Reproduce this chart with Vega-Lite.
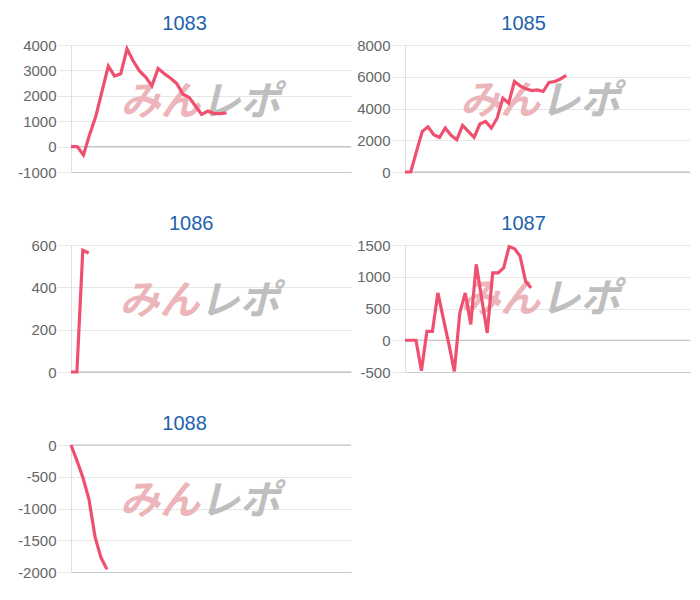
{
  "$schema": "https://vega.github.io/schema/vega-lite/v6.json",
  "padding": {"left": 17, "top": 14, "right": 5, "bottom": 5},
  "config": {
    "font": "Liberation Sans",
    "view": {"stroke": null},
    "title": {"fontSize": 20, "fontWeight": "normal", "color": "#1d62ac", "offset": 4, "font": "Liberation Sans", "frame": "bounds", "anchor": "middle"},
    "axisY": {"domain": true, "domainColor": "#e0e0e0", "grid": true, "gridColor": "#e6e6e6", "ticks": true, "tickColor": "#e6e6e6", "tickSize": 13, "labelPadding": 2, "labelFontSize": 15, "labelColor": "#666666", "title": null, "labelFont": "Liberation Sans", "labelExpr": "toString(datum.value)", "labelOverlap": false, "labelFlush": false, "labelBound": false},
    "axisX": {"labels": false, "ticks": false, "grid": false, "domain": true, "domainColor": "#cccccc", "title": null}
  },
  "datasets": {
    "rows": [
      {"m": "1083", "i": 0, "v": 0}, {"m": "1083", "i": 1, "v": 0}, {"m": "1083", "i": 2, "v": -330}, {"m": "1083", "i": 3, "v": 480}, {"m": "1083", "i": 4, "v": 1200}, {"m": "1083", "i": 5, "v": 2190}, {"m": "1083", "i": 6, "v": 3170}, {"m": "1083", "i": 7, "v": 2780}, {"m": "1083", "i": 8, "v": 2870}, {"m": "1083", "i": 9, "v": 3850}, {"m": "1083", "i": 10, "v": 3370}, {"m": "1083", "i": 11, "v": 2980}, {"m": "1083", "i": 12, "v": 2740}, {"m": "1083", "i": 13, "v": 2390}, {"m": "1083", "i": 14, "v": 3080}, {"m": "1083", "i": 15, "v": 2870}, {"m": "1083", "i": 16, "v": 2690}, {"m": "1083", "i": 17, "v": 2480}, {"m": "1083", "i": 18, "v": 2060}, {"m": "1083", "i": 19, "v": 1930}, {"m": "1083", "i": 20, "v": 1600}, {"m": "1083", "i": 21, "v": 1270}, {"m": "1083", "i": 22, "v": 1400}, {"m": "1083", "i": 23, "v": 1300}, {"m": "1083", "i": 24, "v": 1300}, {"m": "1083", "i": 25, "v": 1330},
      {"m": "1085", "i": 0, "v": 0}, {"m": "1085", "i": 1, "v": 0}, {"m": "1085", "i": 2, "v": 1300}, {"m": "1085", "i": 3, "v": 2560}, {"m": "1085", "i": 4, "v": 2850}, {"m": "1085", "i": 5, "v": 2350}, {"m": "1085", "i": 6, "v": 2180}, {"m": "1085", "i": 7, "v": 2770}, {"m": "1085", "i": 8, "v": 2310}, {"m": "1085", "i": 9, "v": 2030}, {"m": "1085", "i": 10, "v": 2930}, {"m": "1085", "i": 11, "v": 2560}, {"m": "1085", "i": 12, "v": 2180}, {"m": "1085", "i": 13, "v": 3020}, {"m": "1085", "i": 14, "v": 3190}, {"m": "1085", "i": 15, "v": 2770}, {"m": "1085", "i": 16, "v": 3390}, {"m": "1085", "i": 17, "v": 4650}, {"m": "1085", "i": 18, "v": 4340}, {"m": "1085", "i": 19, "v": 5700}, {"m": "1085", "i": 20, "v": 5430}, {"m": "1085", "i": 21, "v": 5240}, {"m": "1085", "i": 22, "v": 5130}, {"m": "1085", "i": 23, "v": 5170}, {"m": "1085", "i": 24, "v": 5070}, {"m": "1085", "i": 25, "v": 5640}, {"m": "1085", "i": 26, "v": 5700}, {"m": "1085", "i": 27, "v": 5860}, {"m": "1085", "i": 28, "v": 6080},
      {"m": "1086", "i": 0, "v": 0}, {"m": "1086", "i": 1, "v": 0}, {"m": "1086", "i": 2, "v": 575}, {"m": "1086", "i": 3, "v": 562},
      {"m": "1087", "i": 0, "v": 0}, {"m": "1087", "i": 1, "v": 0}, {"m": "1087", "i": 2, "v": 0}, {"m": "1087", "i": 3, "v": -480}, {"m": "1087", "i": 4, "v": 140}, {"m": "1087", "i": 5, "v": 140}, {"m": "1087", "i": 6, "v": 745}, {"m": "1087", "i": 7, "v": 340}, {"m": "1087", "i": 8, "v": -60}, {"m": "1087", "i": 9, "v": -490}, {"m": "1087", "i": 10, "v": 430}, {"m": "1087", "i": 11, "v": 745}, {"m": "1087", "i": 12, "v": 250}, {"m": "1087", "i": 13, "v": 1195}, {"m": "1087", "i": 14, "v": 655}, {"m": "1087", "i": 15, "v": 115}, {"m": "1087", "i": 16, "v": 1060}, {"m": "1087", "i": 17, "v": 1060}, {"m": "1087", "i": 18, "v": 1140}, {"m": "1087", "i": 19, "v": 1475}, {"m": "1087", "i": 20, "v": 1440}, {"m": "1087", "i": 21, "v": 1325}, {"m": "1087", "i": 22, "v": 930}, {"m": "1087", "i": 23, "v": 825},
      {"m": "1088", "i": 0, "v": 0}, {"m": "1088", "i": 1, "v": -247}, {"m": "1088", "i": 2, "v": -515}, {"m": "1088", "i": 3, "v": -856}, {"m": "1088", "i": 4, "v": -1442}, {"m": "1088", "i": 5, "v": -1773}, {"m": "1088", "i": 6, "v": -1959}
    ]
  },
  "columns": 2,
  "spacing": {"row": 34, "column": 4},
  "concat": [
    {
      "title": "1083", "width": 280, "height": 127,
      "layer": [
        {"data": {"values": [{}]}, "mark": {"type": "rule", "color": "#bdbdbd"}, "encoding": {"y": {"datum": 0, "axis": {"values": [-1000, 0, 1000, 2000, 3000, 4000], "labelOverlap": false}}}},
        {"data": {"values": [{}]}, "mark": {"type": "text", "text": "みん", "font": "Noto Sans CJK JP", "fontSize": 40, "fontWeight": "bold", "fontStyle": "italic", "color": "#e9a9ae", "opacity": 0.85, "align": "right", "baseline": "middle"}, "encoding": {"x": {"datum": 20.8}, "y": {"datum": 1700, "axis": {"values": [-1000, 0, 1000, 2000, 3000, 4000], "labelOverlap": false}}}},
        {"data": {"values": [{}]}, "mark": {"type": "text", "text": "レポ", "font": "Noto Sans CJK JP", "fontSize": 40, "fontWeight": "bold", "fontStyle": "italic", "color": "#b5b5b5", "opacity": 0.85, "align": "left", "baseline": "middle"}, "encoding": {"x": {"datum": 20.8}, "y": {"datum": 1700, "axis": {"values": [-1000, 0, 1000, 2000, 3000, 4000], "labelOverlap": false}}}},
        {"data": {"name": "rows"}, "transform": [{"filter": "datum.m == '1083'"}], "mark": {"type": "line", "color": "#ef506f", "strokeWidth": 3.2, "strokeJoin": "miter"},
         "encoding": {"x": {"field": "i", "type": "quantitative", "scale": {"domain": [0, 45], "nice": false, "zero": false}},
                      "y": {"field": "v", "type": "quantitative", "scale": {"domain": [-1000, 4000], "nice": false}, "axis": {"values": [-1000, 0, 1000, 2000, 3000, 4000], "labelOverlap": false}}}}
      ]
    },
    {
      "title": "1085", "width": 285, "height": 127,
      "layer": [
        {"data": {"values": [{}]}, "mark": {"type": "rule", "color": "#bdbdbd"}, "encoding": {"y": {"datum": 0, "axis": {"values": [0, 2000, 4000, 6000, 8000], "labelOverlap": false}}}},
        {"data": {"values": [{}]}, "mark": {"type": "text", "text": "みん", "font": "Noto Sans CJK JP", "fontSize": 40, "fontWeight": "bold", "fontStyle": "italic", "color": "#e9a9ae", "opacity": 0.85, "align": "right", "baseline": "middle"}, "encoding": {"x": {"datum": 23.5}, "y": {"datum": 4400, "axis": {"values": [0, 2000, 4000, 6000, 8000], "labelOverlap": false}}}},
        {"data": {"values": [{}]}, "mark": {"type": "text", "text": "レポ", "font": "Noto Sans CJK JP", "fontSize": 40, "fontWeight": "bold", "fontStyle": "italic", "color": "#b5b5b5", "opacity": 0.85, "align": "left", "baseline": "middle"}, "encoding": {"x": {"datum": 23.5}, "y": {"datum": 4400, "axis": {"values": [0, 2000, 4000, 6000, 8000], "labelOverlap": false}}}},
        {"data": {"name": "rows"}, "transform": [{"filter": "datum.m == '1085'"}], "mark": {"type": "line", "color": "#ef506f", "strokeWidth": 3.2, "strokeJoin": "miter"},
         "encoding": {"x": {"field": "i", "type": "quantitative", "scale": {"domain": [0, 49.5], "nice": false, "zero": false}},
                      "y": {"field": "v", "type": "quantitative", "scale": {"domain": [0, 8000], "nice": false}, "axis": {"values": [0, 2000, 4000, 6000, 8000], "labelOverlap": false}}}}
      ]
    },
    {
      "title": "1086", "width": 280, "height": 127,
      "layer": [
        {"data": {"values": [{}]}, "mark": {"type": "rule", "color": "#bdbdbd"}, "encoding": {"y": {"datum": 0, "axis": {"values": [0, 200, 400, 600], "labelOverlap": false}}}},
        {"data": {"values": [{}]}, "mark": {"type": "text", "text": "みん", "font": "Noto Sans CJK JP", "fontSize": 40, "fontWeight": "bold", "fontStyle": "italic", "color": "#e9a9ae", "opacity": 0.85, "align": "right", "baseline": "middle"}, "encoding": {"x": {"datum": 21.8}, "y": {"datum": 333, "axis": {"values": [0, 200, 400, 600], "labelOverlap": false}}}},
        {"data": {"values": [{}]}, "mark": {"type": "text", "text": "レポ", "font": "Noto Sans CJK JP", "fontSize": 40, "fontWeight": "bold", "fontStyle": "italic", "color": "#b5b5b5", "opacity": 0.85, "align": "left", "baseline": "middle"}, "encoding": {"x": {"datum": 21.8}, "y": {"datum": 333, "axis": {"values": [0, 200, 400, 600], "labelOverlap": false}}}},
        {"data": {"name": "rows"}, "transform": [{"filter": "datum.m == '1086'"}], "mark": {"type": "line", "color": "#ef506f", "strokeWidth": 3.2, "strokeJoin": "miter"},
         "encoding": {"x": {"field": "i", "type": "quantitative", "scale": {"domain": [0, 47.5], "nice": false, "zero": false}},
                      "y": {"field": "v", "type": "quantitative", "scale": {"domain": [0, 600], "nice": false}, "axis": {"values": [0, 200, 400, 600], "labelOverlap": false}}}}
      ]
    },
    {
      "title": "1087", "width": 285, "height": 127,
      "layer": [
        {"data": {"values": [{}]}, "mark": {"type": "rule", "color": "#bdbdbd"}, "encoding": {"y": {"datum": 0, "axis": {"values": [-500, 0, 500, 1000, 1500], "labelOverlap": false}}}},
        {"data": {"values": [{}]}, "mark": {"type": "text", "text": "みん", "font": "Noto Sans CJK JP", "fontSize": 40, "fontWeight": "bold", "fontStyle": "italic", "color": "#e9a9ae", "opacity": 0.85, "align": "right", "baseline": "middle"}, "encoding": {"x": {"datum": 24.7}, "y": {"datum": 632, "axis": {"values": [-500, 0, 500, 1000, 1500], "labelOverlap": false}}}},
        {"data": {"values": [{}]}, "mark": {"type": "text", "text": "レポ", "font": "Noto Sans CJK JP", "fontSize": 40, "fontWeight": "bold", "fontStyle": "italic", "color": "#b5b5b5", "opacity": 0.85, "align": "left", "baseline": "middle"}, "encoding": {"x": {"datum": 24.7}, "y": {"datum": 632, "axis": {"values": [-500, 0, 500, 1000, 1500], "labelOverlap": false}}}},
        {"data": {"name": "rows"}, "transform": [{"filter": "datum.m == '1087'"}], "mark": {"type": "line", "color": "#ef506f", "strokeWidth": 3.2, "strokeJoin": "miter"},
         "encoding": {"x": {"field": "i", "type": "quantitative", "scale": {"domain": [0, 52], "nice": false, "zero": false}},
                      "y": {"field": "v", "type": "quantitative", "scale": {"domain": [-500, 1500], "nice": false}, "axis": {"values": [-500, 0, 500, 1000, 1500], "labelOverlap": false}}}}
      ]
    },
    {
      "title": "1088", "width": 280, "height": 127,
      "layer": [
        {"data": {"values": [{}]}, "mark": {"type": "rule", "color": "#bdbdbd"}, "encoding": {"y": {"datum": 0, "axis": {"values": [-2000, -1500, -1000, -500, 0], "labelOverlap": false}}}},
        {"data": {"values": [{}]}, "mark": {"type": "text", "text": "みん", "font": "Noto Sans CJK JP", "fontSize": 40, "fontWeight": "bold", "fontStyle": "italic", "color": "#e9a9ae", "opacity": 0.85, "align": "right", "baseline": "middle"}, "encoding": {"x": {"datum": 21.5}, "y": {"datum": -898, "axis": {"values": [-2000, -1500, -1000, -500, 0], "labelOverlap": false}}}},
        {"data": {"values": [{}]}, "mark": {"type": "text", "text": "レポ", "font": "Noto Sans CJK JP", "fontSize": 40, "fontWeight": "bold", "fontStyle": "italic", "color": "#b5b5b5", "opacity": 0.85, "align": "left", "baseline": "middle"}, "encoding": {"x": {"datum": 21.5}, "y": {"datum": -898, "axis": {"values": [-2000, -1500, -1000, -500, 0], "labelOverlap": false}}}},
        {"data": {"name": "rows"}, "transform": [{"filter": "datum.m == '1088'"}], "mark": {"type": "line", "color": "#ef506f", "strokeWidth": 3.2, "strokeJoin": "miter"},
         "encoding": {"x": {"field": "i", "type": "quantitative", "scale": {"domain": [0, 46.7], "nice": false, "zero": false}},
                      "y": {"field": "v", "type": "quantitative", "scale": {"domain": [-2000, 0], "nice": false}, "axis": {"values": [-2000, -1500, -1000, -500, 0], "labelOverlap": false}}}}
      ]
    }
  ]
}
